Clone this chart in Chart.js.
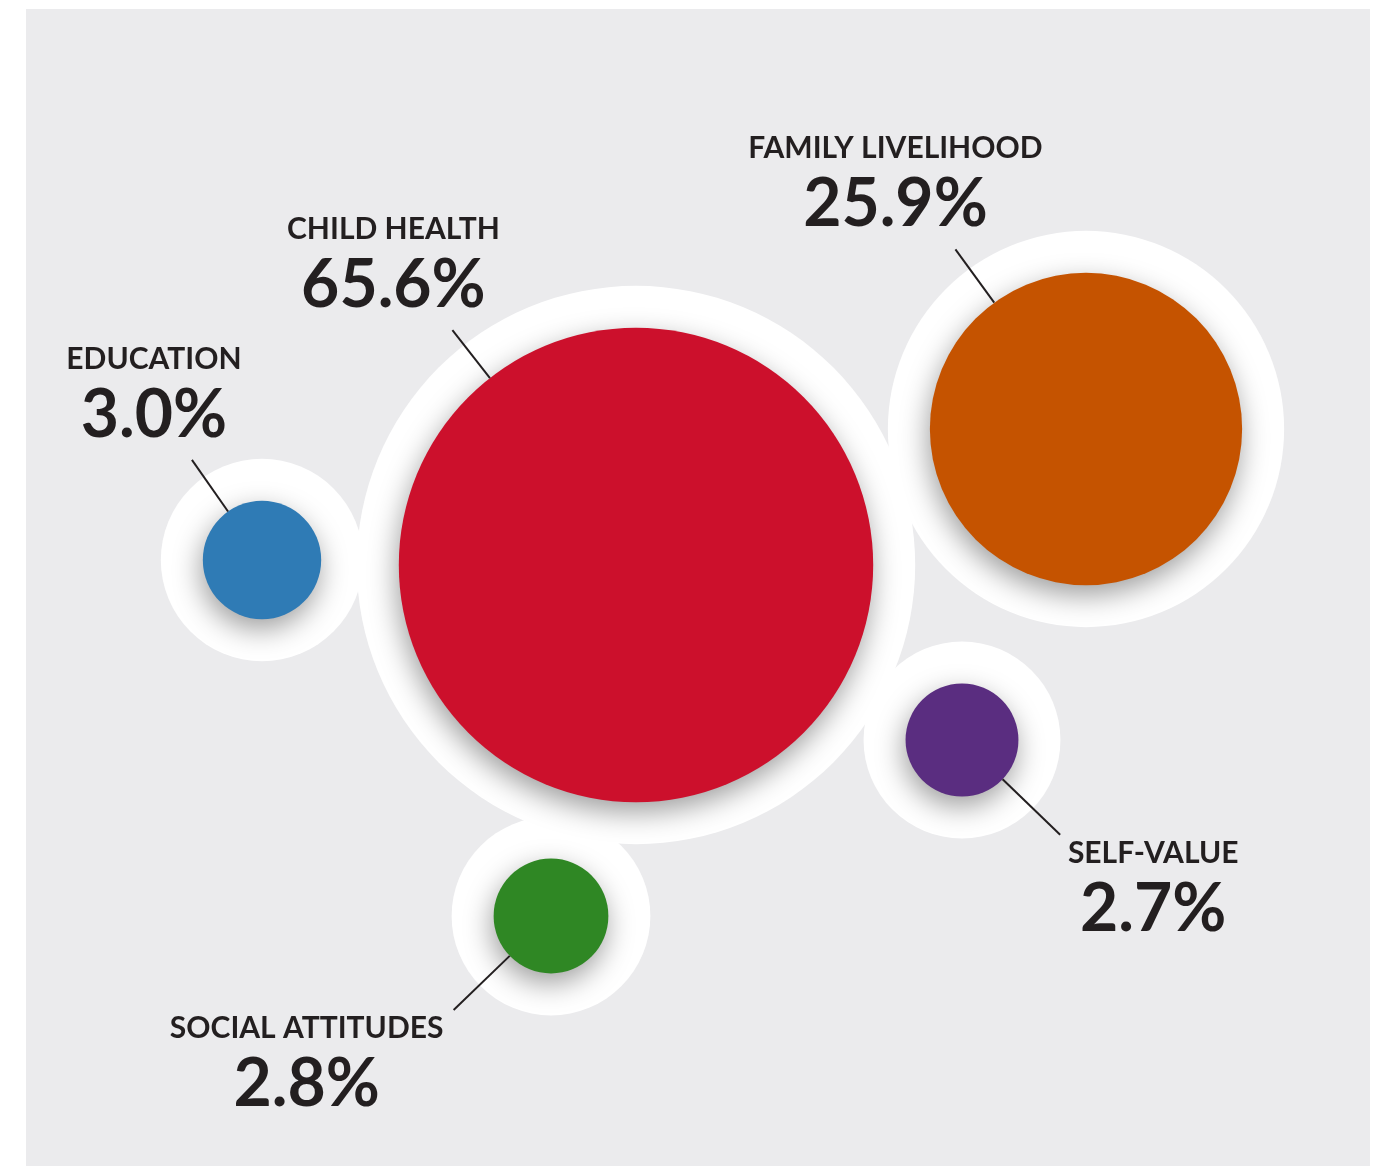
<!DOCTYPE html>
<html>
<head>
<meta charset="utf-8">
<title>Bubble chart</title>
<script src="https://cdn.jsdelivr.net/npm/chart.js@4"></script>
<style>
  html, body { margin: 0; padding: 0; background: #fff; }
  canvas { display: block; }
</style>
</head>
<body>
<canvas id="bubbleChart" width="1382" height="1166"></canvas>
<script>
const categories = ['EDUCATION', 'CHILD HEALTH', 'FAMILY LIVELIHOOD', 'SELF-VALUE', 'SOCIAL ATTITUDES'];
const shares = [3.0, 65.6, 25.9, 2.7, 2.8];
const colors = ['#2f7bb5', '#cc102c', '#c55300', '#5a2d80', '#2f8724'];

// layout of the packed bubbles (page units)
const layoutX = [262, 636, 1086, 962, 551];
const layoutY = [560, 565, 429, 740, 916];
// leader line: direction from centre (deg), length outside the bubble, text shift
const leaderAngle = [-125, -128, -126, 44, 136];
const leaderLen = [63, 61, 66, 80, 78];
const textDx = [-38, -59, -60, 93, -147];

const radiusOf = (v) => 36.1 * Math.pow(v, 0.45);
const points = shares.map((v, i) => ({ x: layoutX[i], y: layoutY[i] }));

const shadowPlugin = {
  id: 'shadow',
  beforeDraw(chart) {
    const { ctx, width, height } = chart;
    ctx.save();
    ctx.fillStyle = '#ffffff';
    ctx.fillRect(0, 0, width, height);
    ctx.fillStyle = '#ebebed';
    ctx.fillRect(26, 9, 1344, height - 9);
    ctx.restore();
  },
  beforeDatasetDraw(chart, args) {
    if (args.index !== 0) return;
    const ctx = chart.ctx;
    ctx.save();
    ctx.shadowColor = 'rgba(0,0,0,0.38)';
    ctx.shadowBlur = 28;
    ctx.shadowOffsetX = -2;
    ctx.shadowOffsetY = 10;
  },
  afterDatasetDraw(chart, args) {
    if (args.index !== 0) return;
    chart.ctx.restore();
  }
};

const labelPlugin = {
  id: 'labels',
  afterDraw(chart) {
    const { ctx } = chart;
    const meta = chart.getDatasetMeta(0);
    ctx.save();
    ctx.fillStyle = '#231f20';
    ctx.strokeStyle = '#231f20';
    ctx.lineWidth = 2;
    ctx.textAlign = 'center';
    ctx.textBaseline = 'alphabetic';
    meta.data.forEach((el, i) => {
      const r = radiusOf(shares[i]);
      const a = leaderAngle[i] * Math.PI / 180;
      const x0 = el.x + Math.cos(a) * r;
      const y0 = el.y + Math.sin(a) * r;
      const x1 = el.x + Math.cos(a) * (r + leaderLen[i]);
      const y1 = el.y + Math.sin(a) * (r + leaderLen[i]);
      ctx.beginPath();
      ctx.moveTo(x0, y0);
      ctx.lineTo(x1, y1);
      ctx.stroke();
      const above = y1 < el.y;
      const tx = x1 + textDx[i];
      const nameY = above ? y1 - 91 : y1 + 28;
      const pctY = above ? y1 - 23 : y1 + 96;
      ctx.font = 'bold 30px Lato, "Open Sans", sans-serif';
      ctx.fillText(categories[i], tx, nameY);
      ctx.font = 'bold 66px Lato, "Open Sans", sans-serif';
      ctx.fillText(shares[i].toFixed(1) + '%', tx, pctY);
    });
    ctx.restore();
  }
};

new Chart(document.getElementById('bubbleChart'), {
  type: 'scatter',
  data: {
    datasets: [
      {
        label: 'Share',
        data: points,
        backgroundColor: colors,
        borderWidth: 0,
        pointRadius: (c) => radiusOf(shares[c.dataIndex]),
        clip: false
      },
      {
        label: 'Halo',
        data: points,
        backgroundColor: '#ffffff',
        borderWidth: 0,
        pointRadius: (c) => radiusOf(shares[c.dataIndex]) + 42,
        clip: false
      }
    ]
  },
  options: {
    responsive: false,
    animation: false,
    events: [],
    layout: { padding: 0, autoPadding: false },
    plugins: { legend: { display: false }, tooltip: { enabled: false } },
    scales: {
      x: { type: 'linear', min: 0, max: 1382, display: false },
      y: { type: 'linear', min: 0, max: 1166, reverse: true, display: false }
    }
  },
  plugins: [shadowPlugin, labelPlugin]
});
</script>
</body>
</html>
